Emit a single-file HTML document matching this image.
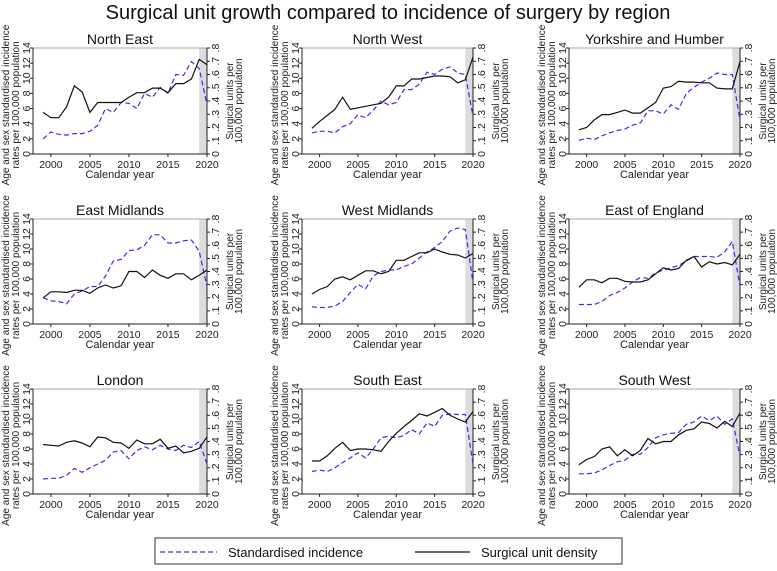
<!DOCTYPE html>
<html><head><meta charset="utf-8"><style>
body{margin:0;background:#fff;width:777px;height:566px;overflow:hidden}
svg{font-family:"Liberation Sans",Arial,sans-serif}
</style></head><body>
<svg id="chart" width="777" height="566" viewBox="0 0 777 566" xmlns="http://www.w3.org/2000/svg">
<text x="388" y="19" text-anchor="middle" font-size="20" fill="#111">Surgical unit growth compared to incidence of surgery by region</text>
<g id="panels"></g>
<g>
<rect x="155" y="538" width="467" height="26" fill="#fff" stroke="#333" stroke-width="1"/>
<line x1="160" y1="552" x2="217" y2="552" stroke="#3333ee" stroke-width="1.3" stroke-dasharray="5,3"/>
<text x="228" y="557" font-size="13" fill="#111">Standardised incidence</text>
<line x1="415" y1="552" x2="470" y2="552" stroke="#111" stroke-width="1.3"/>
<text x="481" y="557" font-size="13" fill="#111">Surgical unit density</text>
</g>
</svg>
<script>
const years=[1999,2000,2001,2002,2003,2004,2005,2006,2007,2008,2009,2010,2011,2012,2013,2014,2015,2016,2017,2018,2019,2020];
const regions=["North East","North West","Yorkshire and Humber","East Midlands","West Midlands","East of England","London","South East","South West"];
const incidence=[
[2.0,2.9,2.6,2.5,2.7,2.7,3.0,3.8,6.0,5.5,6.8,6.7,6.0,8.0,7.5,8.8,8.0,10.5,10.4,12.2,11.3,6.5],
[2.8,3.0,3.0,2.8,3.6,4.0,5.2,4.8,5.8,7.0,6.5,6.8,8.5,8.5,9.2,10.8,10.5,11.2,11.5,10.7,10.5,5.0],
[1.8,2.1,1.9,2.4,2.8,3.1,3.3,3.8,4.1,5.7,5.7,5.3,6.5,5.9,8.0,8.8,9.5,10.0,10.7,10.5,10.5,4.5],
[3.5,3.1,3.0,2.7,4.0,4.4,5.0,5.0,6.4,8.4,8.6,9.8,9.9,10.5,11.9,11.9,10.8,10.8,11.1,11.2,9.7,5.0],
[2.3,2.2,2.2,2.4,3.0,4.2,5.3,4.7,6.4,7.0,7.2,7.2,7.7,8.0,8.8,9.6,10.2,11.0,12.4,12.8,12.6,5.5],
[2.6,2.6,2.6,3.0,3.8,4.2,4.8,5.6,6.2,6.1,6.8,7.2,7.5,7.8,8.4,9.0,9.0,9.0,8.9,9.6,11.0,5.0],
[2.0,2.1,2.1,2.5,3.4,2.9,3.5,4.0,4.5,5.6,5.8,4.7,5.8,6.3,5.9,6.5,6.0,5.8,6.5,6.2,7.0,4.0],
[3.0,3.2,3.0,3.5,4.2,4.8,5.5,4.8,6.0,7.5,7.7,7.5,7.8,8.6,8.0,9.5,9.0,10.5,10.7,10.6,10.6,4.0],
[2.7,2.7,2.8,3.2,3.8,4.3,4.5,5.3,5.3,6.2,7.5,7.9,8.1,8.2,9.3,9.6,10.4,9.8,10.4,9.3,10.0,5.0]];
const density=[
[5.5,4.8,4.8,6.2,9.0,8.2,5.5,6.8,6.8,6.8,6.8,7.5,8.1,8.1,8.7,8.7,8.1,9.3,9.3,9.9,12.5,11.8],
[3.4,4.3,5.1,5.9,7.5,5.9,6.1,6.3,6.5,6.7,7.5,9.0,9.0,9.9,9.9,10.1,10.3,10.3,10.2,9.4,9.8,12.8],
[3.2,3.5,4.5,5.2,5.2,5.5,5.8,5.4,5.4,6.1,6.8,8.7,8.9,9.6,9.5,9.5,9.4,9.4,8.7,8.6,8.6,12.2],
[3.5,4.3,4.3,4.2,4.5,4.5,4.1,4.8,5.2,4.8,5.1,7.0,7.0,6.2,7.2,6.5,6.1,6.7,6.7,5.9,6.5,7.2],
[4.0,4.6,5.0,6.0,6.3,5.9,6.5,7.1,7.1,6.7,7.0,8.5,8.5,9.0,9.5,9.5,10.0,9.6,9.3,9.2,8.8,9.4],
[4.9,5.9,5.9,5.5,6.1,6.1,5.7,5.6,5.6,5.9,6.7,7.5,7.2,7.4,8.5,9.0,7.6,8.3,8.0,8.2,7.9,9.3],
[6.6,6.5,6.4,6.9,7.1,6.8,6.3,7.6,7.5,6.9,6.8,6.1,7.2,6.7,6.7,7.3,6.1,6.4,5.5,5.7,6.1,7.6],
[4.4,4.4,5.1,6.1,6.9,5.8,6.0,6.0,5.9,5.7,7.0,8.1,9.0,9.8,10.7,10.4,10.9,11.4,10.5,10.0,9.6,11.0],
[3.9,4.6,5.0,6.0,6.3,5.1,5.9,5.1,5.8,7.4,6.7,7.0,7.0,7.9,8.5,8.7,9.6,9.4,8.8,9.7,9.0,10.8]];
const leftTicks=[0,2,4,6,8,10,12,14];
const rightTicks=["0",".1",".2",".3",".4",".5",".6",".7",".8"];
const xTicks=[2000,2005,2010,2015,2020];

const NS="http://www.w3.org/2000/svg";
const root=document.getElementById('panels');
function mk(tag,attrs,parent,txt){const e=document.createElementNS(NS,tag);for(const k in attrs)e.setAttribute(k,attrs[k]);if(txt!==undefined)e.textContent=txt;parent.appendChild(e);return e;}
function vtext(parent,x,y,txt,size){return mk('text',{x:x,y:y,'text-anchor':'middle','font-size':size,fill:'#222',transform:`rotate(-90 ${x} ${y})`},parent,txt);}
const cols=[[33,207],[302,473],[569,740]];
const rows=[[48,154],[219,324],[389,494]];
const slug=s=>s.toLowerCase().replace(/ /g,'-');
regions.forEach((name,i)=>{
  const [L,R]=cols[i%3],[T,B]=rows[Math.floor(i/3)];
  const x0=L+(R-L)*0.058;
  const xs=y=>x0+(y-1999)*(R-x0)/21;
  const ys=v=>B-v*(B-T)/14;
  const g=mk('g',{},root);
  
  
  const band=mk('rect',{x:xs(2019),y:T,width:R-xs(2019),height:B-T,fill:'#dcdcdc'},g);
  
  
  mk('line',{x1:L,y1:T,x2:R,y2:T,stroke:'#aaa','stroke-width':1},g);
  mk('line',{x1:L,y1:T,x2:L,y2:B,stroke:'#222','stroke-width':1},g);
  mk('line',{x1:R,y1:T,x2:R,y2:B,stroke:'#222','stroke-width':1},g);
  mk('line',{x1:L,y1:B,x2:R,y2:B,stroke:'#222','stroke-width':1},g);
  const t=mk('text',{x:(L+R)/2,y:T-4,'text-anchor':'middle','font-size':14,fill:'#111'},g,name);
  
  
  leftTicks.forEach(v=>{
    const y=ys(v);
    mk('line',{x1:L-3,y1:y,x2:L,y2:y,stroke:'#222'},g);
    vtext(g,L-3,y,v,10.5);
  });
  rightTicks.forEach((lab,k)=>{
    const y=B-k*(B-T)/8;
    mk('line',{x1:R,y1:y,x2:R+3,y2:y,stroke:'#222'},g);
    vtext(g,R+12,y,lab,10.5);
  });
  xTicks.forEach(yr=>{
    const x=xs(yr);
    mk('line',{x1:x,y1:B,x2:x,y2:B+3,stroke:'#222'},g);
    mk('text',{x:x,y:B+14,'text-anchor':'middle','font-size':10.5,fill:'#222'},g,yr);
  });
  const xt=mk('text',{x:(L+R)/2,y:B+24,'text-anchor':'middle','font-size':11,fill:'#222'},g,'Calendar year');
  
  
  const cy=(T+B)/2;
  const yl1=vtext(g,L-24,cy+4,'Age and sex standardised incidence',10);
  
  
  const yl2=vtext(g,L-14,cy+4,'rates per 100,000 population',10);
  
  
  const yr1=vtext(g,R+26,cy,'Surgical units per',10);
  
  
  const yr2=vtext(g,R+35,cy,'100,000 population',10);
  
  
  const pts=arr=>arr.map((v,k)=>xs(years[k]).toFixed(1)+','+ys(v).toFixed(1)).join(' ');
  const b=mk('polyline',{points:pts(incidence[i]),fill:'none',stroke:'#3333ee','stroke-width':1.2,'stroke-dasharray':'5,3'},g);
  
  
  const k=mk('polyline',{points:pts(density[i]),fill:'none',stroke:'#111','stroke-width':1.2},g);
  
  
});
</script>
</body></html>
